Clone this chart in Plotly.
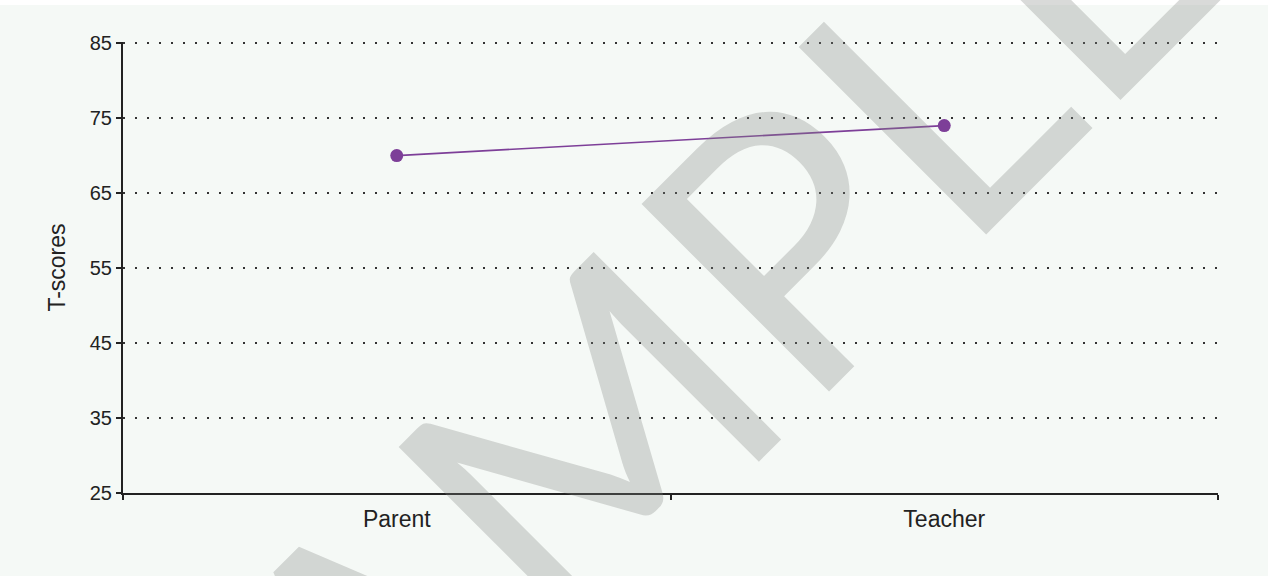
import plotly.graph_objects as go

# Data
categories = ["Parent", "Teacher"]
t_scores = [70, 74]
y_ticks = [25, 35, 45, 55, 65, 75, 85]
y_title = "T-scores"
watermark = "SAMPLE"

BG = "#f5f9f6"
PURPLE = "#7d3f98"

fig = go.Figure()
fig.add_trace(go.Scatter(
    x=categories, y=t_scores, mode="lines+markers",
    line=dict(color=PURPLE, width=1.6),
    marker=dict(color=PURPLE, size=13, line=dict(width=0)),
    hoverinfo="skip", showlegend=False,
))

fig.update_layout(
    width=1268, height=576,
    margin=dict(l=123, r=50, t=42, b=83),
    paper_bgcolor=BG, plot_bgcolor=BG,
    font=dict(family="Liberation Sans, Arial, sans-serif", color="#222222"),
    xaxis=dict(
        type="category", range=[-0.5, 1.5], tickson="boundaries",
        showline=True, linecolor="#222222", linewidth=2,
        ticks="outside", ticklen=5, tickwidth=2, tickcolor="#222222",
        showgrid=False, zeroline=False,
        tickfont=dict(size=23), ticklabelstandoff=4,
    ),
    yaxis=dict(
        range=[25, 85.15], tickvals=y_ticks, ticktext=[str(v) for v in y_ticks],
        showline=True, linecolor="#222222", linewidth=2,
        ticks="outside", ticklen=5, tickwidth=2, tickcolor="#222222",
        showgrid=True, gridcolor="#333333", gridwidth=2, griddash="2px,10px",
        zeroline=False,
        tickfont=dict(size=20),
        title=dict(text=y_title, font=dict(size=23), standoff=18),
    ),
    shapes=[dict(type="rect", xref="paper", yref="paper",
                 x0=-0.2, x1=1.1, y0=1.0820, y1=1.2,
                 fillcolor="white", line=dict(width=0), layer="below")],
    annotations=[dict(
        text=watermark, xref="paper", yref="paper", x=0.478, y=0.268,
        xanchor="center", yanchor="middle", showarrow=False, textangle=-45,
        font=dict(family="Lato, Noto Sans, sans-serif", size=370,
                  color="rgba(128,132,129,0.3)"),
    )],
)

fig.write_html("out.html", config={"displayModeBar": False},
               post_script="document.body.style.margin='0';")
